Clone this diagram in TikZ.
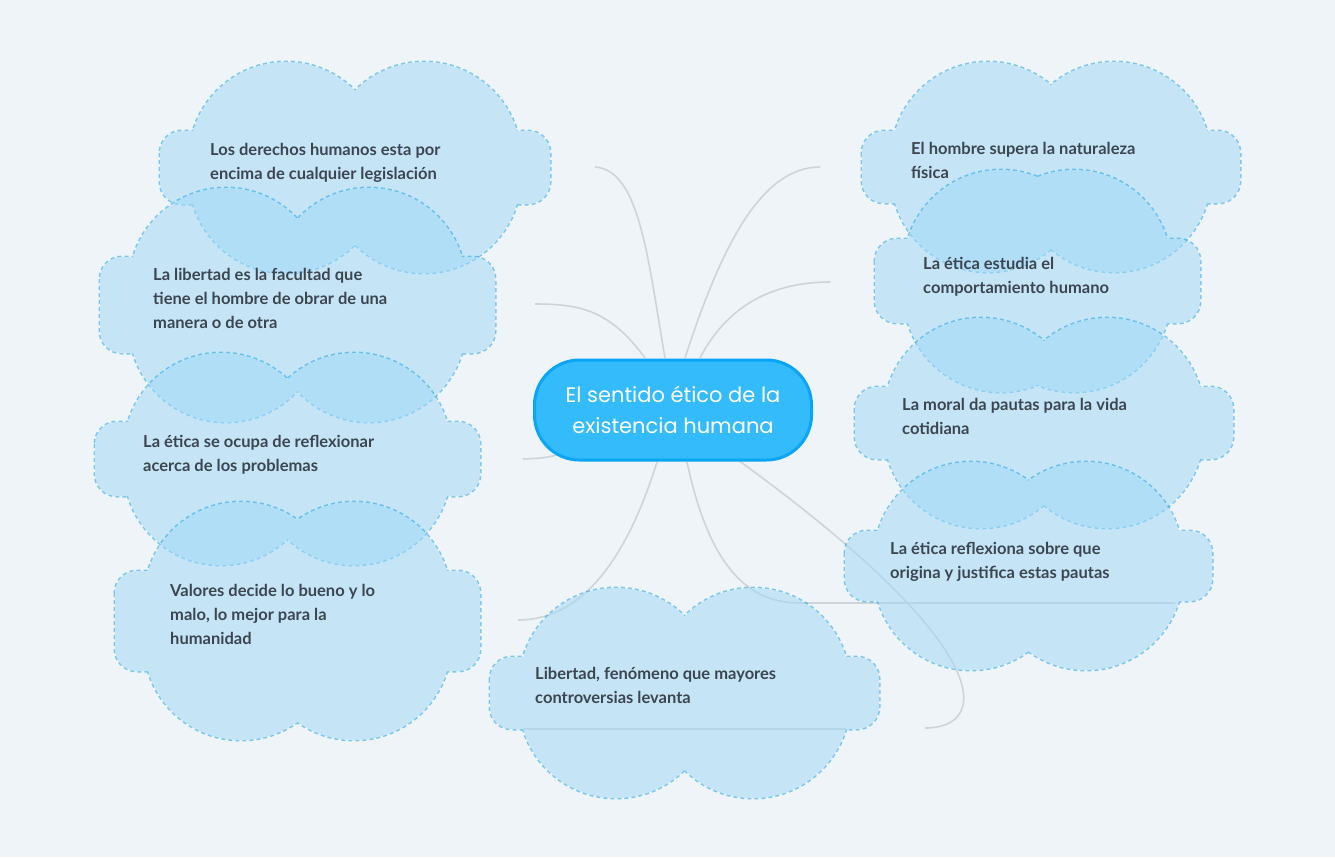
\documentclass[tikz,border=0pt]{standalone}
\usepackage{fontspec}
\setmainfont{Lato}
\newfontfamily\ctrfont{Poppins}
\definecolor{bg}{HTML}{EEF4F8}
\definecolor{cf}{HTML}{9DD8F7}
\definecolor{cb}{HTML}{0A9AE8}
\definecolor{ln}{HTML}{CDD4DA}
\definecolor{tx}{HTML}{3C4650}
\definecolor{cfill}{HTML}{33BBFB}
\definecolor{cbord}{HTML}{0AA5F5}
\newcommand\mycloud[4]{%
\begin{scope}[transparency group, opacity=0.5]
\foreach \dd/\st in {1/{draw=cb,line width=3,dash pattern=on 4 off 3}, 2/{fill=cf}}{
\path[style/.expanded=\st] (#1+93,#2+28) circle (97) (#3-93,#2+28) circle (97)
 (#1+93,#4-28) circle (97) (#3-93,#4-28) circle (97);
\path[style/.expanded=\st, rounded corners=22] (#1-33,#2) rectangle (#3+33,#4);
}
\end{scope}}
\tikzset{lab/.style={anchor=north west,align=left,text=tx,font=\fontsize{16.5}{24}\selectfont\bfseries,inner sep=0},
con/.style={draw=ln,line width=1.6}}
\begin{document}
\begin{tikzpicture}[x=1pt,y=-1pt]
\fill[bg] (0,0) rectangle (1335,857);
\useasboundingbox (0,0) rectangle (1335,857);
% connector end coordinates
\coordinate (a0) at (665,358); \coordinate (a1) at (595,167);
\coordinate (b0) at (645,358); \coordinate (b1) at (535,304);
\coordinate (c0) at (560,454); \coordinate (c1) at (523,459);
\coordinate (d0) at (657,462); \coordinate (d1) at (518,620);
\coordinate (e0) at (685,358); \coordinate (e1) at (820,167);
\coordinate (f0) at (700,358); \coordinate (f1) at (830,282);
\coordinate (g0) at (687,462); \coordinate (g1) at (800,603); \coordinate (g2) at (1175,603);
\coordinate (h0) at (738,460); \coordinate (h1) at (925,728);
\coordinate (u0) at (523,729); \coordinate (u1) at (846,729);
\path[con] (a0) .. controls (648,260) and (640,170) .. (a1);
\path[con] (b0) .. controls (610,310) and (580,304) .. (b1);
\path[con] (c0) .. controls (545,458) .. (c1);
\path[con] (d0) .. controls (620,580) and (570,620) .. (d1);
\path[con] (e0) .. controls (720,250) and (760,167) .. (e1);
\path[con] (f0) .. controls (730,300) and (780,282) .. (f1);
\path[con] (g0) .. controls (710,570) and (750,603) .. (g1) -- (g2);
\path[con] (h0) .. controls (1000,650) and (990,728) .. (h1);
\path[con] (u0) -- (u1);
% clouds
\mycloud{193}{131}{517}{204}
\mycloud{133}{257}{462}{353}
\mycloud{128}{422}{447}{496}
\mycloud{148}{571}{447}{671}
\mycloud{523}{657}{846}{729}
\mycloud{895}{131}{1207}{203}
\mycloud{908}{239}{1167}{323}
\mycloud{888}{387}{1200}{459}
\mycloud{878}{531}{1179}{601}
% texts
\node[lab] (t1) at (210,143) {Los derechos humanos esta por\\encima de cualquier legislación};
\node[lab] (t2) at (153,268) {La libertad es la facultad que\\tiene el hombre de obrar de una\\manera o de otra};
\node[lab] (t3) at (143,435) {La ética se ocupa de reflexionar\\acerca de los problemas};
\node[lab] (t4) at (170,584) {Valores decide lo bueno y lo\\malo, lo mejor para la\\humanidad};
\node[lab] (t5) at (535,667) {Libertad, fenómeno que mayores\\controversias levanta};
\node[lab] (t6) at (911,142) {El hombre supera la naturaleza\\física};
\node[lab] (t7) at (923,257) {La ética estudia el\\comportamiento humano};
\node[lab] (t8) at (902,398) {La moral da pautas para la vida\\cotidiana};
\node[lab] (t9) at (890,542) {La ética reflexiona sobre que\\origina y justifica estas pautas};
% center
\node[draw=cbord,fill=cfill,line width=3,rounded corners=45,minimum width=277,minimum height=100,
 text=white,align=center,font=\ctrfont\fontsize{21}{31}\selectfont] (c) at (673,410)
 {El sentido ético de la\\existencia humana};
\end{tikzpicture}
\end{document}
